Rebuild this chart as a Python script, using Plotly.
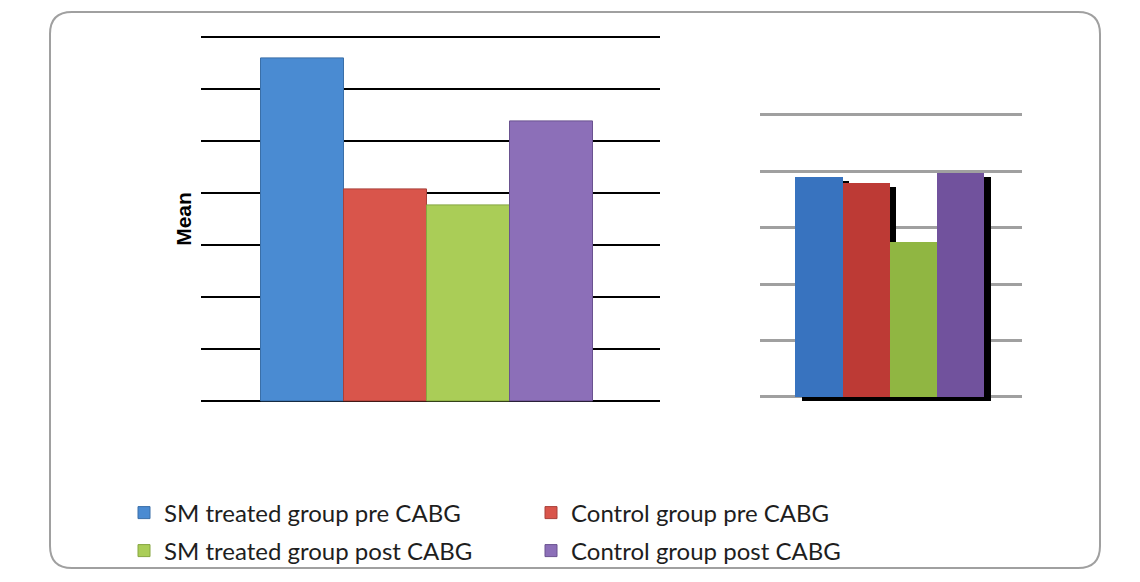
import plotly.graph_objects as go

# ---------------- data ----------------
series = ["SM treated group pre CABG", "Control group pre CABG",
          "SM treated group post CABG", "Control group post CABG"]
left_values = [6.58, 4.06, 3.77, 5.37]
right_values = [3.90, 3.79, 2.75, 3.97]
legend_rows = ["legend", "legend", "legend2", "legend2"]

left_colors = ["#4a8bd2", "#d9554b", "#aacd57", "#8c6fb8"]
left_edges = ["#3a6fa8", "#a8403a", "#86a640", "#6a5290"]
right_colors = ["#3873bf", "#bd3a35", "#90b642", "#71529d"]

W, H = 1140, 582


def fx(p):
    return p / W


def fy(p):
    return 1 - p / H


fig = go.Figure()

# left panel bars
for name, v, c, e, lg in zip(series, left_values, left_colors, left_edges, legend_rows):
    fig.add_trace(go.Bar(
        x=[name], y=[v], width=1, name=name, legend=lg,
        marker=dict(color=c, line=dict(color=e, width=1)),
        xaxis="x", yaxis="y", hoverinfo="name+y"))

# right panel shadows
for name, v in zip(series, right_values):
    fig.add_trace(go.Bar(
        x=[name], y=[v], base=[-0.08], width=1, offset=-0.36,
        marker=dict(color="black", line=dict(width=0)),
        showlegend=False, hoverinfo="skip", xaxis="x2", yaxis="y2"))

# right panel bars
for name, v, c in zip(series, right_values, right_colors):
    fig.add_trace(go.Bar(
        x=[name], y=[v], width=1, name=name,
        marker=dict(color=c, line=dict(width=0)),
        showlegend=False, xaxis="x2", yaxis="y2", hoverinfo="name+y"))

# rounded frame
x0, x1, y0, y1, r = 50, 1100, 12, 568, 22
path = (f"M {fx(x0 + r)},{fy(y0)} L {fx(x1 - r)},{fy(y0)} "
        f"Q {fx(x1)},{fy(y0)} {fx(x1)},{fy(y0 + r)} "
        f"L {fx(x1)},{fy(y1 - r)} Q {fx(x1)},{fy(y1)} {fx(x1 - r)},{fy(y1)} "
        f"L {fx(x0 + r)},{fy(y1)} Q {fx(x0)},{fy(y1)} {fx(x0)},{fy(y1 - r)} "
        f"L {fx(x0)},{fy(y0 + r)} Q {fx(x0)},{fy(y0)} {fx(x0 + r)},{fy(y0)} Z")

legend_common = dict(orientation="h", x=fx(124), xanchor="left", yanchor="middle",
                     entrywidth=362, entrywidthmode="pixels", itemwidth=30,
                     bgcolor="rgba(0,0,0,0)", borderwidth=0, traceorder="normal",
                     font=dict(family="Lato", size=24, color="#1e1e1e"))

fig.update_layout(
    width=W, height=H, margin=dict(l=0, r=0, t=0, b=0),
    paper_bgcolor="white", plot_bgcolor="rgba(0,0,0,0)",
    barmode="overlay", bargap=0,
    showlegend=True,
    legend=dict(y=fy(513), **legend_common),
    legend2=dict(y=fy(551), **legend_common),
    shapes=[dict(type="path", path=path, xref="paper", yref="paper",
                 line=dict(color="#a0a0a0", width=2), fillcolor="white", layer="below")],
    xaxis=dict(domain=[fx(201), fx(660)], type="category", categoryarray=series,
               categoryorder="array", range=[-1.223, 4.307], showticklabels=False,
               showgrid=False, zeroline=False, showline=False, ticks="", anchor="y"),
    yaxis=dict(domain=[fy(402.6), fy(35.4)], range=[-0.03, 7.03], tick0=0, dtick=1,
               showgrid=True, gridcolor="black", gridwidth=2, zeroline=False,
               showline=False, showticklabels=False, ticks="", anchor="x",
               title=dict(text="<b>Mean</b>", standoff=2,
                          font=dict(family="Arial", size=21, color="black"))),
    xaxis2=dict(domain=[fx(760), fx(1022)], type="category", categoryarray=series,
                categoryorder="array", range=[-1.25, 4.30], showticklabels=False,
                showgrid=False, zeroline=False, showline=False, ticks="", anchor="y2"),
    yaxis2=dict(domain=[fy(402.6), fy(113.3)], range=[-0.1, 5.03], tick0=0, dtick=1,
                showgrid=True, gridcolor="#a0a0a0", gridwidth=3, zeroline=False,
                showline=False, showticklabels=False, ticks="", anchor="x2"),
)

fig.write_html("out.html")
